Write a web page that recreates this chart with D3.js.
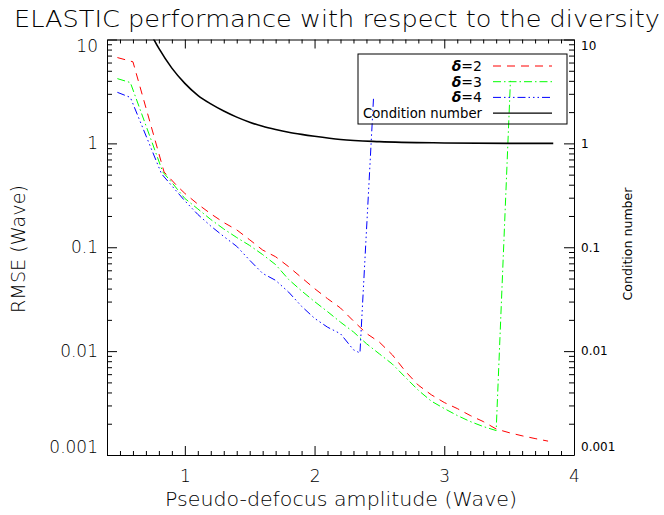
<!DOCTYPE html>
<html>
<head>
<meta charset="utf-8">
<script src="https://cdn.jsdelivr.net/npm/d3@7"></script>
<style>
  body { margin: 0; background: #fff; }
  svg { display: block; font-family: "DejaVu Sans", sans-serif; font-weight: 200; }
  .axis { font-family: "DejaVu Sans", sans-serif; }
  .axis path, .axis line { stroke: #000; stroke-width: 1; }
  .axis text { fill: #000; }
  .small { font-weight: 400; }
</style>
</head>
<body>
<svg id="chart" width="664" height="515"></svg>
<script>
// tick labels
var xTicks = [1, 2, 3, 4];
var yTicks = [0.001, 0.01, 0.1, 1, 10];

// delta = 2
var amp2 = [0.48, 0.60, 0.84, 0.94, 1.0, 1.1, 1.2, 1.3, 1.4, 1.5, 1.6, 1.7, 1.8, 1.9, 2.0, 2.1, 2.2, 2.3, 2.4, 2.5, 2.6, 2.7, 2.8, 2.9, 3.0, 3.1, 3.2, 3.3, 3.4, 3.5, 3.6, 3.7, 3.8];
var rmse2 = [6.7, 6.1, 0.53, 0.39, 0.33, 0.26, 0.21, 0.173, 0.147, 0.118, 0.094, 0.081, 0.065, 0.051, 0.040, 0.032, 0.026, 0.0195, 0.0148, 0.0122, 0.0092, 0.0064, 0.0047, 0.0038, 0.0032, 0.0028, 0.0024, 0.0021, 0.00178, 0.00164, 0.00153, 0.00144, 0.00136];
// delta = 3
var amp3 = [0.48, 0.58, 0.83, 0.9, 1.0, 1.1, 1.2, 1.3, 1.4, 1.5, 1.6, 1.7, 1.8, 1.9, 2.0, 2.1, 2.2, 2.3, 2.4, 2.5, 2.6, 2.7, 2.8, 2.9, 3.0, 3.1, 3.2, 3.3, 3.4, 3.51];
var rmse3 = [4.2, 3.85, 0.53, 0.42, 0.295, 0.234, 0.185, 0.150, 0.124, 0.104, 0.085, 0.068, 0.049, 0.038, 0.030, 0.024, 0.019, 0.0153, 0.0118, 0.0094, 0.0075, 0.0056, 0.0042, 0.0033, 0.0028, 0.0024, 0.0021, 0.00188, 0.00172, 4.0];
// delta = 4
var amp4 = [0.48, 0.58, 0.82, 0.9, 1.0, 1.1, 1.2, 1.3, 1.4, 1.5, 1.6, 1.7, 1.8, 1.9, 2.0, 2.1, 2.2, 2.3, 2.35, 2.455];
var rmse4 = [3.1, 2.77, 0.51, 0.39, 0.28, 0.207, 0.16, 0.127, 0.102, 0.075, 0.056, 0.048, 0.037, 0.027, 0.0207, 0.017, 0.0147, 0.0103, 0.0096, 2.8];
// condition number (right axis)
var ampC = [0.7, 0.8, 0.9, 1.0, 1.1, 1.2, 1.3, 1.4, 1.5, 1.6, 1.7, 1.8, 1.9, 2.0, 2.2, 2.5, 3.0, 3.5, 3.84];
var cond = [14, 8.2, 5.3, 3.78, 2.9, 2.40, 2.05, 1.79, 1.60, 1.46, 1.36, 1.28, 1.22, 1.17, 1.09, 1.04, 1.01, 1.0, 1.0];

var legendLabels = ["2", "3", "4"];

// define svg parameters
var svg = d3.select("#chart"),
    margin = {top: 39.5, right: 90, bottom: 60, left: 107},
    width = 574 - margin.left,
    height = 455 - margin.top;

var x = d3.scaleLinear().domain([0.4, 4]).range([0, width]),
    y = d3.scaleLog().domain([0.001, 10]).range([height, 0]),
    yR = d3.scaleLog().domain([0.001, 10]).range([height, 0]);

var g = svg.append("g")
    .attr("transform", "translate(" + margin.left + "," + margin.top + ")");

svg.append("defs").append("clipPath").attr("id", "plotclip")
  .append("rect").attr("width", width).attr("height", height);

// minor tick positions
var xMinor = d3.range(5, 40).map(function(d) { return d / 10; }).filter(function(d) { return d % 1 !== 0; });
var yMinor = [];
[0.001, 0.01, 0.1, 1].forEach(function(dec) {
  for (var k = 2; k <= 9; k++) yMinor.push(dec * k);
});

// keep end labels inside the frame like the original
function labelShift(scale) {
  return function(d) {
    var p = scale(d);
    var s = 0;
    if (p < 6.5) s = 6.5 - p;
    if (p > height - 8) s = height - 8 - p;
    return "translate(0," + s + ")";
  };
}

// bottom axis
g.append("g").attr("class", "axis")
  .attr("transform", "translate(0," + height + ")")
  .call(d3.axisBottom(x).tickValues(xMinor).tickSize(-4).tickFormat(""))
  .call(function(s) { s.select(".domain").remove(); });
g.append("g").attr("class", "axis")
  .attr("transform", "translate(0," + height + ")")
  .call(d3.axisBottom(x).tickValues(xTicks).tickSize(-9).tickSizeOuter(0).tickPadding(15).tickFormat(d3.format("d")))
  .selectAll("text").style("font-size", "17px");

// top axis
g.append("g").attr("class", "axis")
  .call(d3.axisTop(x).tickValues(xMinor).tickSize(-4).tickFormat(""))
  .call(function(s) { s.select(".domain").remove(); });
g.append("g").attr("class", "axis")
  .call(d3.axisTop(x).tickValues(xTicks).tickSize(-9).tickSizeOuter(0).tickFormat(""));

// left axis
g.append("g").attr("class", "axis")
  .call(d3.axisLeft(y).tickValues(yMinor).tickSize(-5).tickFormat(""))
  .call(function(s) { s.select(".domain").remove(); });
g.append("g").attr("class", "axis")
  .call(d3.axisLeft(y).tickValues(yTicks).tickSize(-10).tickSizeOuter(0).tickPadding(9).tickFormat(function(d) { return String(d); }))
  .selectAll("text").style("font-size", "17px").attr("transform", labelShift(y));

// right axis
g.append("g").attr("class", "axis")
  .attr("transform", "translate(" + width + ",0)")
  .call(d3.axisRight(yR).tickValues(yMinor).tickSize(-5).tickFormat(""))
  .call(function(s) { s.select(".domain").remove(); });
g.append("g").attr("class", "axis")
  .attr("transform", "translate(" + width + ",0)")
  .call(d3.axisRight(yR).tickValues(yTicks).tickSize(-10).tickSizeOuter(0).tickPadding(7).tickFormat(function(d) { return String(d); }))
  .selectAll("text").attr("class", "small").style("font-size", "12px").attr("transform", labelShift(yR));

// series
var series = [
  {xs: amp2, ys: rmse2, color: "#ff0000", dash: "8,6", scale: y, width: 1},
  {xs: amp3, ys: rmse3, color: "#00ff00", dash: "8,3,1.5,3", scale: y, width: 1},
  {xs: amp4, ys: rmse4, color: "#0000ff", dash: "8,3,1.5,3,1.5,3,1.5,3", scale: y, width: 1},
  {xs: ampC, ys: cond, color: "#000000", dash: null, scale: yR, width: 1.6, curve: d3.curveMonotoneX}
];

var plot = g.append("g").attr("clip-path", "url(#plotclip)");
series.forEach(function(s) {
  var pts = s.xs.map(function(v, i) { return [v, s.ys[i]]; });
  var line = d3.line()
    .x(function(d) { return x(d[0]); })
    .y(function(d) { return s.scale(d[1]); })
    .curve(s.curve || d3.curveLinear);
  plot.append("path")
    .attr("d", line(pts))
    .attr("fill", "none")
    .attr("stroke", s.color)
    .attr("stroke-width", s.width)
    .attr("stroke-dasharray", s.dash);
});

// legend (no fill, lines show through like the original)
var legend = svg.append("g").attr("transform", "translate(358,54)");
legend.append("rect")
  .attr("width", 209).attr("height", 70)
  .attr("fill", "none").attr("stroke", "#000").attr("stroke-width", 1);
var rows = legendLabels.concat(["Condition number"]);
rows.forEach(function(lbl, i) {
  var yy = 12 + i * 15.7;
  var t = legend.append("text")
    .attr("class", "small")
    .attr("x", 124).attr("y", yy).attr("dy", "0.35em")
    .attr("text-anchor", "end")
    .style("font-size", "14px");
  if (i < 3) {
    t.append("tspan").style("font-weight", "bold").style("font-style", "italic").text("\u03b4");
    t.append("tspan").text("=" + lbl);
  } else {
    t.attr("textLength", 119).attr("lengthAdjust", "spacingAndGlyphs").text(lbl);
  }
  legend.append("line")
    .attr("x1", 135).attr("x2", 194)
    .attr("y1", yy).attr("y2", yy)
    .attr("stroke", series[i].color)
    .attr("stroke-width", i === 3 ? 1.2 : series[i].width)
    .attr("stroke-dasharray", series[i].dash);
});

// titles
svg.append("text")
  .attr("x", 14).attr("y", 27)
  .attr("textLength", 646).attr("lengthAdjust", "spacingAndGlyphs")
  .style("font-size", "23px")
  .text("ELASTIC performance with respect to the diversity");
svg.append("text")
  .attr("x", 341).attr("y", 506)
  .attr("text-anchor", "middle")
  .attr("textLength", 352).attr("lengthAdjust", "spacingAndGlyphs")
  .style("font-size", "19px")
  .text("Pseudo-defocus amplitude (Wave)");
svg.append("text")
  .attr("transform", "translate(25,249) rotate(-90)")
  .attr("text-anchor", "middle")
  .attr("textLength", 128).attr("lengthAdjust", "spacingAndGlyphs")
  .style("font-size", "20px")
  .text("RMSE (Wave)");
svg.append("text")
  .attr("class", "small")
  .attr("transform", "translate(632,244) rotate(-90)")
  .attr("text-anchor", "middle")
  .attr("textLength", 113).attr("lengthAdjust", "spacingAndGlyphs")
  .style("font-size", "12px")
  .text("Condition number");
</script>
</body>
</html>
